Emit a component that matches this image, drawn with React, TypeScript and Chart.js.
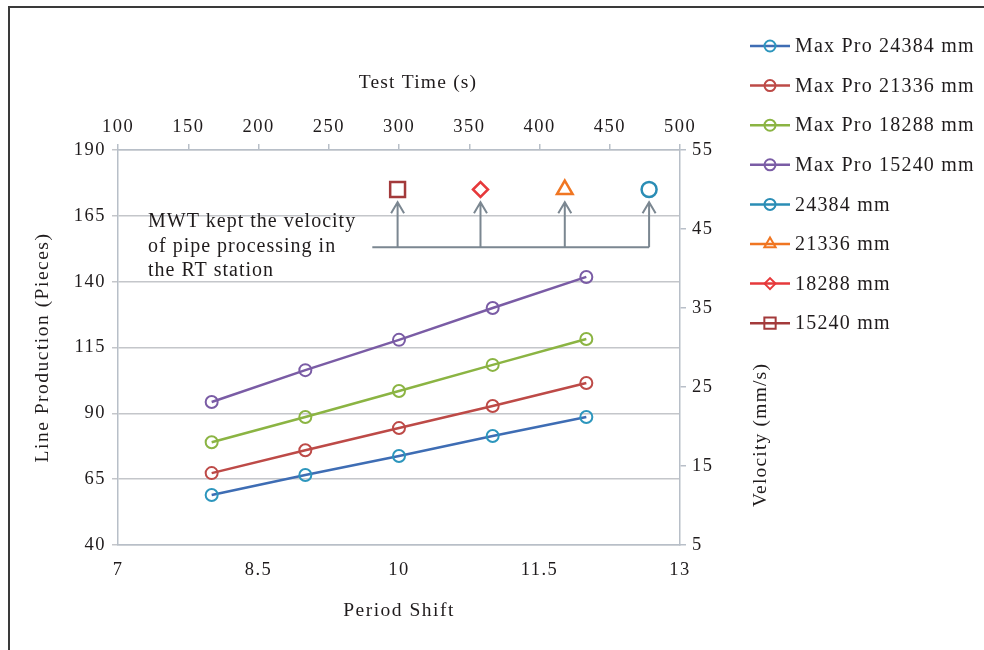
import React, { useEffect, useRef } from 'react';
import { Chart, registerables } from 'chart.js';
import { drawPoint } from 'chart.js/helpers';

Chart.register(...registerables);

// ---- data ----
const PERIOD_SHIFT = [8, 9, 10, 11, 12];
const MAX_PRO_24384 = [59.0, 66.6, 73.8, 81.4, 88.6];
const MAX_PRO_21336 = [67.3, 76.0, 84.4, 92.8, 101.5];
const MAX_PRO_18288 = [79.0, 88.6, 98.5, 108.4, 118.2];
const MAX_PRO_15240 = [94.3, 106.4, 117.9, 130.0, 141.8];

const MWT_LABELS = ['24384 mm', '21336 mm', '18288 mm', '15240 mm'];
const MWT_TEST_TIME = [478, 418, 358, 299];
const MWT_VELOCITY = [50, 50, 50, 50];

const ANNOTATION_LINES = ['MWT kept the velocity', 'of pipe processing in', 'the RT station'];
const ARROW_BASE_VELOCITY = 42.7;
const ARROW_TIP_VELOCITY = 48.4;
const ARROW_LEFT_TIME = 281;
const ANNOTATION_X = 7.32;
const ANNOTATION_Y = 162.7;

const SERIF = '"Liberation Serif", "Times New Roman", serif';
const TEXT = '#1f1b1c';
const GRID = '#c4c6ca';
const AXIS = '#b8bfc8';

const ptData = (xs: number[], ys: number[]) => xs.map((x, i) => ({ x, y: ys[i] }));

const lineDs = (label: string, ys: number[], line: string, marker: string) => ({
  label,
  data: ptData(PERIOD_SHIFT, ys),
  xAxisID: 'x',
  yAxisID: 'y',
  borderColor: line,
  borderWidth: 2.5,
  pointStyle: 'circle',
  pointRadius: 6,
  pointBorderWidth: 2,
  pointBorderColor: marker,
  pointBackgroundColor: 'rgba(0,0,0,0)',
  legendLine: line,
  legendMarker: marker,
  legendRadius: 5.5,
});

const mwtDs = (i: number, color: string, style: string, radius: number, legendRadius: number) => ({
  label: MWT_LABELS[i],
  data: [{ x: MWT_TEST_TIME[i], y: MWT_VELOCITY[i] }],
  xAxisID: 'x2',
  yAxisID: 'y2',
  showLine: false,
  borderColor: color,
  pointStyle: style,
  pointRadius: radius,
  pointBorderWidth: 2.5,
  pointBorderColor: color,
  pointBackgroundColor: 'rgba(0,0,0,0)',
  legendLine: color,
  legendMarker: color,
  legendRadius,
});

const font = (size: number) => `${size}px ${SERIF}`;
const BASE_SPACING = '1.5px';

const decor = {
  id: 'decor',
  beforeUpdate(chart: any) {
    chart.ctx.letterSpacing = BASE_SPACING;
  },
  beforeDraw(chart: any) {
    chart.ctx.letterSpacing = BASE_SPACING;
  },
  afterDraw(chart: any) {
    const ctx = chart.ctx;
    const { x, y, x2, y2 } = chart.scales;
    ctx.save();

    // frame
    ctx.strokeStyle = '#3a3a3a';
    ctx.lineWidth = 2;
    ctx.beginPath();
    ctx.moveTo(9, 650);
    ctx.lineTo(9, 7);
    ctx.lineTo(984, 7);
    ctx.stroke();

    // top axis title
    ctx.letterSpacing = '1.2px';
    ctx.fillStyle = TEXT;
    ctx.font = font(19.5);
    ctx.textAlign = 'center';
    ctx.textBaseline = 'middle';
    ctx.fillText('Test Time (s)', 418, 83);

    // right axis title
    ctx.save();
    ctx.translate(761, 435);
    ctx.rotate(-Math.PI / 2);
    ctx.fillText('Velocity (mm/s)', 0, 0);
    ctx.restore();

    // annotation text
    ctx.letterSpacing = '1px';
    ctx.textAlign = 'left';
    ctx.font = font(20);
    const tx = x.getPixelForValue(ANNOTATION_X);
    const ty = y.getPixelForValue(ANNOTATION_Y);
    ANNOTATION_LINES.forEach((t, i) => ctx.fillText(t, tx, ty + i * 24.5));

    // arrows
    const baseY = y2.getPixelForValue(ARROW_BASE_VELOCITY);
    const tipY = y2.getPixelForValue(ARROW_TIP_VELOCITY);
    const xs = MWT_TEST_TIME.map((t) => x2.getPixelForValue(t));
    ctx.strokeStyle = '#7b8791';
    ctx.lineWidth = 2;
    ctx.beginPath();
    ctx.moveTo(x2.getPixelForValue(ARROW_LEFT_TIME), baseY);
    ctx.lineTo(Math.max(...xs), baseY);
    xs.forEach((ax) => {
      ctx.moveTo(ax, baseY);
      ctx.lineTo(ax, tipY);
      ctx.moveTo(ax - 6.5, tipY + 11);
      ctx.lineTo(ax, tipY);
      ctx.lineTo(ax + 6.5, tipY + 11);
    });
    ctx.stroke();

    // legend
    ctx.letterSpacing = '1.2px';
    ctx.font = font(20);
    ctx.textAlign = 'left';
    chart.data.datasets.forEach((ds: any, i: number) => {
      const ly = 46 + i * 39.6;
      ctx.strokeStyle = ds.legendLine;
      ctx.lineWidth = 2.5;
      ctx.beginPath();
      ctx.moveTo(750, ly);
      ctx.lineTo(790, ly);
      ctx.stroke();
      ctx.save();
      ctx.strokeStyle = ds.legendMarker;
      ctx.lineWidth = 2;
      ctx.fillStyle = 'rgba(0,0,0,0)';
      drawPoint(ctx, { pointStyle: ds.pointStyle, radius: ds.legendRadius, rotation: 0, borderWidth: 2 } as any, 770, ly);
      ctx.restore();
      ctx.fillStyle = TEXT;
      ctx.fillText(ds.label, 795, ly + 1);
    });

    ctx.restore();
  },
};

export default function App() {
  const ref = useRef<HTMLCanvasElement | null>(null);

  useEffect(() => {
    if (!ref.current) return;
    const tickFont = { family: SERIF, size: 18.5 };
    const titleFont = { family: SERIF, size: 19.5 };
    const chart = new Chart(ref.current, {
      type: 'line',
      data: {
        datasets: [
          lineDs('Max Pro 24384 mm', MAX_PRO_24384, '#3e6db4', '#2d96bd'),
          lineDs('Max Pro 21336 mm', MAX_PRO_21336, '#bd4a47', '#bd4a47'),
          lineDs('Max Pro 18288 mm', MAX_PRO_18288, '#8bb443', '#8bb443'),
          lineDs('Max Pro 15240 mm', MAX_PRO_15240, '#7a5ca5', '#7a5ca5'),
          mwtDs(0, '#2a8db5', 'circle', 7.5, 5.5),
          mwtDs(1, '#f07622', 'triangle', 9, 6.5),
          mwtDs(2, '#e6393b', 'rectRot', 7.5, 5.5),
          mwtDs(3, '#a33a3b', 'rect', 10.5, 8),
        ] as any,
      },
      options: {
        animation: false,
        responsive: false,
        devicePixelRatio: 1,
        layout: { padding: 0 },
        plugins: { legend: { display: false }, tooltip: { enabled: false } },
        scales: {
          x: {
            type: 'linear',
            position: 'bottom',
            min: 7,
            max: 13,
            ticks: { stepSize: 1.5, padding: 14, color: TEXT, font: tickFont },
            grid: { display: false, drawTicks: false },
            border: { display: true, color: AXIS, width: 1.5 },
            title: { display: true, text: 'Period Shift', color: TEXT, font: titleFont, padding: { top: 0, bottom: 27 } },
            afterFit: (s: any) => { s.height = 105; },
          },
          x2: {
            type: 'linear',
            position: 'top',
            min: 100,
            max: 500,
            ticks: { stepSize: 50, padding: 6, color: TEXT, font: tickFont },
            grid: { drawOnChartArea: false, drawTicks: true, tickLength: 6, color: AXIS, lineWidth: 1.5 },
            border: { display: true, color: AXIS, width: 1.5 },
            afterFit: (s: any) => { s.height = 150; },
          },
          y: {
            type: 'linear',
            position: 'left',
            min: 40,
            max: 190,
            ticks: { stepSize: 25, padding: 6, color: TEXT, font: tickFont },
            grid: { color: GRID, lineWidth: 1.5, tickLength: 6 },
            border: { display: true, color: AXIS, width: 1.5 },
            title: { display: true, text: 'Line Production (Pieces)', color: TEXT, font: titleFont, padding: { top: 31, bottom: 0 } },
            afterFit: (s: any) => { s.width = 118; },
          },
          y2: {
            type: 'linear',
            position: 'right',
            min: 5,
            max: 55,
            ticks: { stepSize: 10, padding: 6, color: TEXT, font: tickFont },
            grid: { drawOnChartArea: false, drawTicks: true, tickLength: 6, color: AXIS, lineWidth: 1.5 },
            border: { display: true, color: AXIS, width: 1.5 },
            afterFit: (s: any) => { s.width = 304; },
          },
        },
      } as any,
      plugins: [decor],
    });
    return () => chart.destroy();
  }, []);

  return (
    <div style={{ position: 'absolute', left: 0, top: 0, width: 984, height: 650, background: '#fff' }}>
      <canvas ref={ref} width={984} height={650} style={{ display: 'block' }} />
    </div>
  );
}
